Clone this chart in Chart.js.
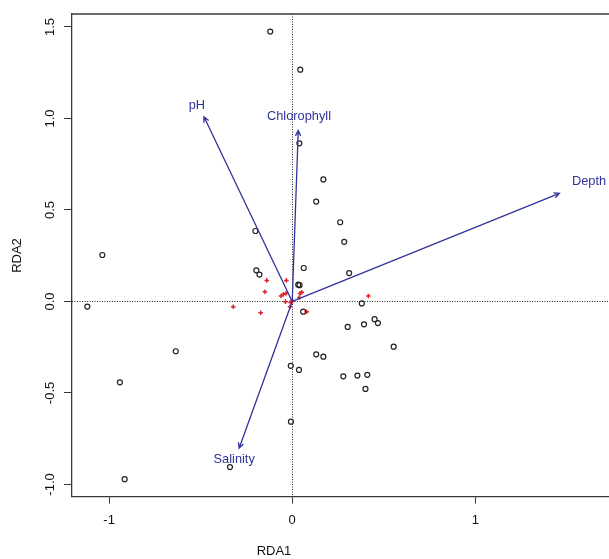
<!DOCTYPE html>
<html><head><meta charset="utf-8">
<script src="https://cdn.jsdelivr.net/npm/chart.js@4"></script>
<style>html,body{margin:0;padding:0;background:#fff;overflow:hidden}canvas{display:block}</style>
</head><body>
<canvas id="c" width="609" height="559"></canvas>
<script>
const xTicks = [-1, 0, 1];
const xTickLabels = ['-1', '0', '1'];
const yTicks = [-1.0, -0.5, 0.0, 0.5, 1.0, 1.5];
const yTickLabels = ['-1.0', '-0.5', '0.0', '0.5', '1.0', '1.5'];
const xTitle = 'RDA1';
const yTitle = 'RDA2';

const siteX = [-0.120, 0.044, 0.039, 0.170, 0.131, 0.262, 0.284, -0.201, -1.037, 0.063, 0.311, -0.196,
  -0.179, 0.033, 0.040, -1.119, 0.380, 0.060, 0.450, 0.468, 0.392, 0.303, 0.554, -0.636,
  0.131, 0.170, -0.008, 0.037, 0.279, 0.356, 0.410, 0.400, -0.941, -0.007, -0.340, -0.915];
const siteY = [1.475, 1.267, 0.864, 0.667, 0.546, 0.433, 0.326, 0.385, 0.254, 0.183, 0.155, 0.170,
  0.147, 0.092, 0.089, -0.028, -0.011, -0.056, -0.097, -0.118, -0.125, -0.139, -0.247, -0.272,
  -0.289, -0.302, -0.352, -0.374, -0.409, -0.405, -0.401, -0.478, -0.442, -0.657, -0.905, -0.971];

const speciesX = [-0.139, -0.032, -0.149, -0.061, -0.048, -0.034, 0.043, 0.052, 0.039, -0.037, -0.009,
  -0.012, -0.322, -0.172, 0.079, 0.416, 0.002];
const speciesY = [0.115, 0.115, 0.053, 0.030, 0.039, 0.044, 0.044, 0.050, 0.022, -0.001, -0.005,
  -0.029, -0.029, -0.062, -0.056, 0.030, 0.002];

const envNames = ['pH', 'Chlorophyll', 'Depth', 'Salinity'];
const envX = [-0.482, 0.033, 1.459, -0.290];
const envY = [1.009, 0.934, 0.591, -0.802];
const envLabelX = [-0.521, 0.037, 1.621, -0.317];
const envLabelY = [1.072, 1.009, 0.655, -0.866];

const FONT = "'Liberation Sans', Arial, Helvetica, sans-serif";
const AX = '#3a3a3a';
const BLUE = '#30349a';

const rdaPlugin = {
  id: 'rda',
  beforeDatasetsDraw(chart) {
    const { ctx, chartArea: a, scales: { x, y } } = chart;
    ctx.save();
    ctx.strokeStyle = '#222';
    ctx.lineWidth = 1;
    ctx.setLineDash([1, 1.5]);
    const x0 = Math.round(x.getPixelForValue(0)) + 0.5;
    const y0 = Math.round(y.getPixelForValue(0)) + 0.5;
    ctx.beginPath();
    ctx.moveTo(a.left, y0); ctx.lineTo(a.right, y0);
    ctx.moveTo(x0, a.top); ctx.lineTo(x0, a.bottom);
    ctx.stroke();
    ctx.setLineDash([]);
    ctx.strokeStyle = AX;
    ctx.lineWidth = 1.3;
    ctx.beginPath();
    ctx.moveTo(a.left, a.top); ctx.lineTo(a.right + 2, a.top);
    ctx.stroke();
    ctx.restore();
  },
  afterDatasetsDraw(chart) {
    const { ctx, scales: { x, y } } = chart;
    ctx.save();
    ctx.strokeStyle = BLUE;
    ctx.fillStyle = BLUE;
    ctx.lineWidth = 1.3;
    const ox = x.getPixelForValue(0), oy = y.getPixelForValue(0);
    envNames.forEach((name, i) => {
      const tx = x.getPixelForValue(envX[i]), ty = y.getPixelForValue(envY[i]);
      ctx.beginPath();
      ctx.moveTo(ox, oy); ctx.lineTo(tx, ty);
      const ang = Math.atan2(ty - oy, tx - ox);
      const L = 6, w = 0.45;
      ctx.moveTo(tx - L * Math.cos(ang - w), ty - L * Math.sin(ang - w));
      ctx.lineTo(tx, ty);
      ctx.lineTo(tx - L * Math.cos(ang + w), ty - L * Math.sin(ang + w));
      ctx.stroke();
      ctx.font = '12.8px ' + FONT;
      ctx.textAlign = 'center';
      ctx.textBaseline = 'middle';
      ctx.fillText(name, x.getPixelForValue(envLabelX[i]), y.getPixelForValue(envLabelY[i]));
    });
    ctx.restore();
  },
  afterDraw(chart) {
    const { ctx, scales: { x, y } } = chart;
    ctx.save();
    ctx.fillStyle = '#111';
    ctx.font = '13px ' + FONT;
    ctx.textAlign = 'center';
    ctx.textBaseline = 'middle';
    xTicks.forEach((v, i) => ctx.fillText(xTickLabels[i], x.getPixelForValue(v), 520.5));
    yTicks.forEach((v, i) => {
      ctx.save();
      ctx.translate(50.8, y.getPixelForValue(v));
      ctx.rotate(-Math.PI / 2);
      ctx.fillText(yTickLabels[i], 0, 0);
      ctx.restore();
    });
    ctx.fillText(xTitle, 274, 551.7);
    ctx.save();
    ctx.translate(17.9, 255.5);
    ctx.rotate(-Math.PI / 2);
    ctx.fillText(yTitle, 0, 0);
    ctx.restore();
    ctx.restore();
  }
};

new Chart(document.getElementById('c'), {
  type: 'scatter',
  data: {
    datasets: [
      {
        label: 'sites',
        data: siteX.map((v, i) => ({ x: v, y: siteY[i] })),
        pointStyle: 'circle',
        pointRadius: 2.5,
        borderColor: '#222',
        borderWidth: 1.2,
        backgroundColor: 'rgba(0,0,0,0)'
      },
      {
        label: 'species',
        data: speciesX.map((v, i) => ({ x: v, y: speciesY[i] })),
        pointStyle: 'cross',
        pointRadius: 2.3,
        borderColor: '#e0242c',
        borderWidth: 1.5,
        backgroundColor: '#e0242c'
      }
    ]
  },
  options: {
    responsive: false,
    animation: false,
    devicePixelRatio: 1,
    layout: { autoPadding: false, padding: { top: 14, left: 0, right: 0, bottom: 0 } },
    plugins: { legend: { display: false }, tooltip: { enabled: false } },
    scales: {
      x: {
        type: 'linear',
        position: 'bottom',
        min: -1.2026,
        max: 1.730,
        afterBuildTicks: s => { s.ticks = xTicks.map(v => ({ value: v })); },
        afterFit: s => { s.height = 62.3; },
        ticks: { display: false },
        grid: { drawOnChartArea: false, drawTicks: true, tickLength: 7, color: AX, lineWidth: 1 },
        border: { display: true, color: AX, width: 1.3 }
      },
      y: {
        type: 'linear',
        position: 'left',
        min: -1.067,
        max: 1.571,
        afterBuildTicks: s => { s.ticks = yTicks.map(v => ({ value: v })); },
        afterFit: s => { s.width = 72; },
        ticks: { display: false },
        grid: { drawOnChartArea: false, drawTicks: true, tickLength: 8, color: AX, lineWidth: 1 },
        border: { display: true, color: AX, width: 1.3 }
      }
    }
  },
  plugins: [rdaPlugin]
});
</script>
</body></html>
